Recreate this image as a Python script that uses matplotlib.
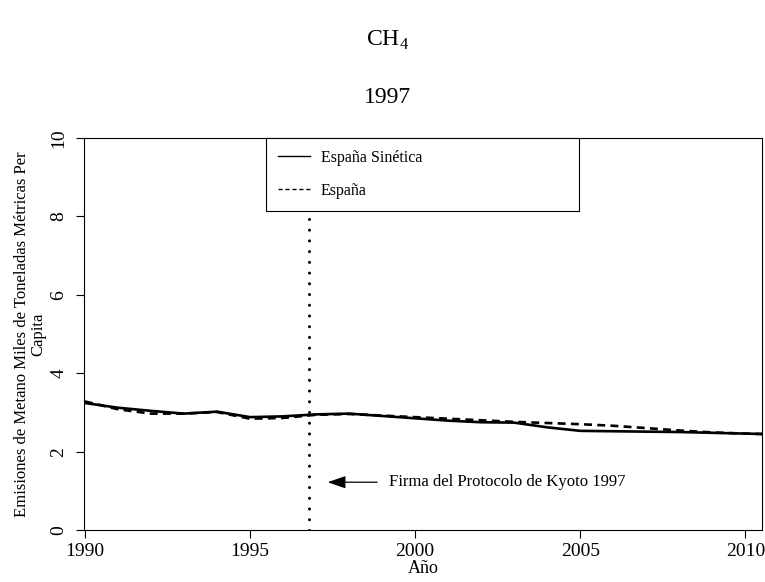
import numpy as np
import matplotlib.pyplot as plt

plt.rcParams['font.family'] = ['Liberation Serif', 'DejaVu Serif']
plt.rcParams['mathtext.fontset'] = 'custom'
plt.rcParams['mathtext.rm'] = 'Liberation Serif'

years = np.arange(1990, 2012)
sintetica = [3.24, 3.12, 3.04, 2.97, 3.02, 2.88, 2.90, 2.95, 2.97, 2.91, 2.85,
             2.79, 2.75, 2.74, 2.62, 2.53, 2.52, 2.51, 2.50, 2.48, 2.46, 2.44]
espana = [3.28, 3.08, 2.97, 2.97, 3.01, 2.84, 2.86, 2.94, 2.96, 2.92, 2.88,
          2.84, 2.80, 2.76, 2.73, 2.70, 2.66, 2.60, 2.54, 2.49, 2.46, 2.44]
kyoto = 1996.8

fig = plt.figure(figsize=(7.65, 5.82), dpi=100)
ax = fig.add_axes([0.1098, 0.0893, 0.886, 0.6735])

ax.axvline(kyoto, color='k', lw=2.2, linestyle=(0, (0.01, 3.5)),
           dash_capstyle='round', zorder=1)
ax.plot(years, sintetica, color='k', lw=1.9, label='España Sinética', zorder=3)
ax.plot(years, espana, color='k', lw=1.9, dashes=(3, 2), label='España', zorder=2)

ax.annotate('', xy=(1997.35, 1.22), xytext=(1998.85, 1.22),
            arrowprops=dict(arrowstyle='-|>,head_length=1.1,head_width=0.38',
                            color='k', lw=0.9, shrinkA=0, shrinkB=0))
ax.text(1999.2, 1.22, 'Firma del Protocolo de Kyoto 1997', fontsize=12,
        va='center', ha='left')

ax.set_xlim(1989.97, 2010.5)
ax.set_ylim(0, 10)
ax.set_xticks([1990, 1995, 2000, 2005, 2010])
ax.set_yticks([0, 2, 4, 6, 8, 10])
ax.tick_params(axis='both', labelsize=14, length=6, width=0.8, direction='out')
ax.tick_params(axis='y', pad=6)
for lbl in ax.get_yticklabels():
    lbl.set_rotation(90)
    lbl.set_va('center')

ax.set_xlabel('Año', fontsize=13, labelpad=0)
ax.set_ylabel('Emisiones de Metano Miles de Toneladas Métricas Per\nCapita',
              fontsize=12, labelpad=3, linespacing=1.0)

leg = ax.legend(loc='upper left', bbox_to_anchor=(0.268, 0.99, 0.4617, 0.01),
                mode='expand', fontsize=11.5, frameon=True, fancybox=False,
                edgecolor='k', framealpha=1, borderpad=0.75, labelspacing=1.05,
                handlelength=2.0, handletextpad=0.7, borderaxespad=0)
leg.get_frame().set_linewidth(0.8)
for h in leg.get_lines():
    h.set_linewidth(1.0)

fig.text(0.507, 0.931, 'CH$_4$', ha='center', va='center', fontsize=17)
fig.text(0.507, 0.833, '1997', ha='center', va='center', fontsize=17)

plt.savefig('out.png', dpi=100)
